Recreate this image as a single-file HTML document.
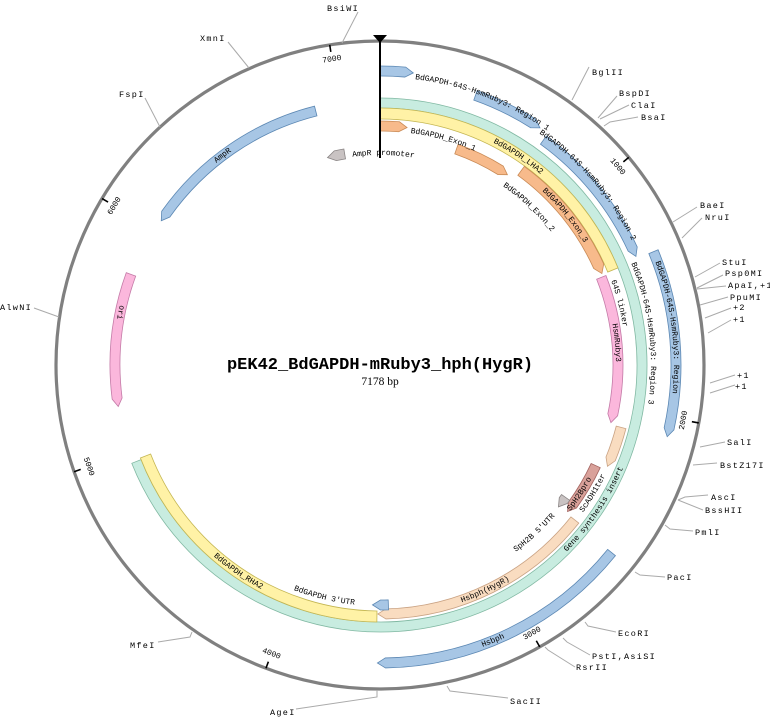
<!DOCTYPE html>
<html><head><meta charset="utf-8"><style>
html,body{margin:0;padding:0;background:#fff;}
svg{display:block;}
text{font-family:"Liberation Mono","DejaVu Sans Mono",monospace;}
</style></head><body>
<svg id="s" width="770" height="717" viewBox="0 0 770 717" xmlns="http://www.w3.org/2000/svg">
<defs id="d"></defs>
<g id="g"></g>
<text x="380" y="369" text-anchor="middle" font-size="17" font-weight="bold" fill="#000">pEK42_BdGAPDH-mRuby3_hph(HygR)</text>
<text x="380" y="385" text-anchor="middle" font-size="11.5" style="font-family:'Liberation Serif',serif" fill="#000">7178 bp</text>
</svg>
<script>
var NS="http://www.w3.org/2000/svg",cx=380,cy=365,R=324;
var g=document.getElementById('g'),defs=document.getElementById('d');
function el(t,a,p){var e=document.createElementNS(NS,t);for(var k in a)e.setAttribute(k,a[k]);(p||g).appendChild(e);return e;}
function pt(a,r){var t=a*Math.PI/180;return [cx+r*Math.sin(t),cy-r*Math.cos(t)];}
function f(p){return p[0].toFixed(2)+" "+p[1].toFixed(2);}
// main circle
el('circle',{cx:cx,cy:cy,r:R,fill:'none',stroke:'#808080','stroke-width':3.2});
// sites
var sites=[
["BsiWI",327,11,[[342,43],[358,12]]],
["XmnI",200,41,[[249,68],[228,42]]],
["FspI",119,97,[[160,127],[145,98]]],
["AlwNI",0,310,[[59,317],[34,308]]],
["MfeI",130,648,[[192,632],[190,637],[158,642]]],
["AgeI",270,715,[[377,690],[377,697],[296,709]]],
["SacII",510,704,[[447,686],[450,691],[508,698]]],
["RsrII",576,670,[[545,647],[548,650],[575,667]]],
["PstI,AsiSI",592,659,[[563,638],[567,642],[590,655]]],
["EcoRI",618,636,[[585,622],[588,626],[616,632]]],
["PacI",667,580,[[635,572],[640,575],[665,577]]],
["PmlI",695,535,[[665,525],[670,529],[693,531]]],
["AscI",711,500,[[678,500],[685,497],[708,495]]],
["BssHII",705,513,[[678,500],[703,510]]],
["BstZ17I",720,468,[[693,465],[717,463]]],
["SalI",727,445,[[700,447],[725,442]]],
["+1",737,378,[[710,383],[735,375]]],
["+1",735,389,[[710,393],[735,385]]],
["StuI",722,265,[[695,277],[720,263]]],
["Psp0MI",725,276,[[697,288],[723,275]]],
["ApaI,+1",728,288,[[697,289],[726,286]]],
["PpuMI",730,300,[[700,305],[728,297]]],
["+2",733,310,[[705,318],[731,308]]],
["+1",733,322,[[708,333],[731,320]]],
["BaeI",700,208,[[673,222],[697,207]]],
["NruI",705,220,[[682,238],[702,218]]],
["BglII",592,75,[[572,100],[589,67]]],
["BspDI",619,96,[[598,118],[617,96]]],
["ClaI",631,108,[[600,119],[629,105]]],
["BsaI",641,120,[[604,126],[610,122],[638,117]]]
];
sites.forEach(function(s){
 el('polyline',{points:s[3].map(function(p){return p.join(',')}).join(' '),fill:'none',stroke:'#aaa','stroke-width':1});
 var t=el('text',{x:s[1],y:s[2],'font-size':8.5,'letter-spacing':1.3,fill:'#000'});t.textContent=s[0];
});
// ticks
for(var i=1;i<=7;i++){
 var a=i*1000/7178*360;
 var p1=pt(a,R),p2=pt(a,R-7);
 el('line',{x1:p1[0],y1:p1[1],x2:p2[0],y2:p2[1],stroke:'#000','stroke-width':1.6});
 var lp=pt(a,R-15);var rot=(a>90&&a<270)?a-180:a;
 var t=el('text',{x:lp[0],y:lp[1],'font-size':8,'text-anchor':'middle','dominant-baseline':'central',transform:'rotate('+rot+' '+lp[0]+' '+lp[1]+')',fill:'#000'});
 t.textContent=String(i*1000);
}
// bands
function band(a0,a1,r,w,fill,stroke,arrow){
 var ro=r+w/2,ri=r-w/2,h=8/r*180/Math.PI,s=a0,e=a1,d;
 if(arrow=='cw')e=a1-h; if(arrow=='ccw')s=a0+h;
 var lg=(e-s)>180?1:0;
 d="M"+f(pt(s,ro))+" A"+ro+" "+ro+" 0 "+lg+" 1 "+f(pt(e,ro));
 if(arrow=='cw')d+=" L"+f(pt(a1,r));
 d+=" L"+f(pt(e,ri))+" A"+ri+" "+ri+" 0 "+lg+" 0 "+f(pt(s,ri));
 if(arrow=='ccw')d+=" L"+f(pt(a0,r));
 d+=" Z";
 el('path',{d:d,fill:fill,stroke:stroke,'stroke-width':0.8});
}
var BL=['#a7c6e5','#5b87b3'],GR=['#c8ece0','#80b8a2'],YE=['#fff2a6','#c4b652'],OR=['#f7ba8b','#c98a55'],PK=['#fbb7dc','#c47aa7'],PE=['#f9dcc0','#c9a283'],RD=['#d9a19a','#a3635f'],GY=['#c9c3c3','#8a8585'];
band(0,248.4,262,10,GR[0],GR[1]);
band(0,67.8,251.5,11,YE[0],YE[1]);
band(180.7,248.8,251.5,11,YE[0],YE[1]);
band(0,6.5,294,10,BL[0],BL[1],'cw');
band(19.5,34,286,10,BL[0],BL[1],'cw');
band(36,67,278,10,BL[0],BL[1],'cw');
band(67.5,104,296,10,BL[0],BL[1],'cw');
band(129,180.5,298,10,BL[0],BL[1],'cw');
band(0,6.5,239,10,OR[0],OR[1],'cw');
band(19.5,33.8,229,10,OR[0],OR[1],'cw');
band(36,67.6,240,11,OR[0],OR[1],'cw');
band(68.4,104,238,10,PK[0],PK[1],'cw');
band(104.5,114,249,10,PE[0],PE[1],'cw');
band(115,128,238,10,RD[0],RD[1],'cw');
band(125.5,128.5,228,10,GY[0],GY[1],'cw');
band(128.5,180.5,249,10,PE[0],PE[1],'cw');
band(178,181.8,240,10,BL[0],BL[1],'cw');
band(345.8,350.5,214,10,GY[0],GY[1],'ccw');
band(303.4,345.8,262,10,BL[0],BL[1],'ccw');
band(261,290,265,10,PK[0],PK[1],'ccw');
// vertical line + triangle
el('line',{x1:380,y1:38,x2:380,y2:158,stroke:'#000','stroke-width':2});
el('path',{d:'M373 35 L387 35 L380 43 Z',fill:'#000'});
// labels on arcs
var n=0;
function lab(txt,start,r,dir,fs){
 var id='p'+(n++),e=dir>0?start+200:start-200;
 var d="M"+f(pt(start,r))+" A"+r+" "+r+" 0 1 "+(dir>0?1:0)+" "+f(pt(e,r));
 el('path',{id:id,d:d,fill:'none'},defs);
 var t=el('text',{'font-size':fs||8,'dominant-baseline':'central',fill:'#000'});
 var tp=el('textPath',{href:'#'+id},t);tp.setAttributeNS("http://www.w3.org/1999/xlink","xlink:href","#"+id);tp.textContent=txt;
}
lab("BdGAPDH-64S-HsmRuby3: Region 1",7,290,1);
lab("BdGAPDH-64S-HsmRuby3: Region 2",34.5,283,1);
lab("BdGAPDH-64S-HsmRuby3: Region 3",68,273,1);
lab("BdGAPDH-64S-HsmRuby3: Region",69.5,296,1);
lab("BdGAPDH_Exon_1",7.5,236,1);
lab("BdGAPDH_LHA2",27,251.5,1);
lab("BdGAPDH_Exon_2",34.5,219,1);
lab("BdGAPDH_Exon_3",43,240,1);
lab("64S linker",70,248,1);
lab("HsmRuby3",80,238,1);
lab("AmpR",321,262,1);
lab("AmpR promoter",352.5,212,1);
lab("Gene synthesis insert",135,262,-1);
lab("ScADH1ter",126,249,-1);
lab("SpH2Bpro",127.5,238,-1);
lab("SpH2B 5'UTR",144,229,-1);
lab("Hsbph(HygR)",161,249,-1);
lab("BdGAPDH 3'UTR",201,239,-1);
lab("BdGAPDH_RHA2",221,251.5,-1);
lab("Hsbph",160,298,-1);
lab("ori",283,265,-1);
</script>
</body></html>
